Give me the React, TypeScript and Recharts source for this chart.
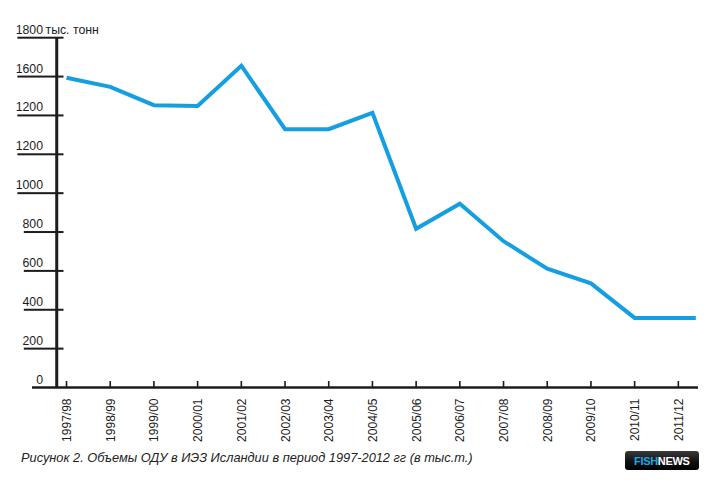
import React from 'react';
import { LineChart, Line, XAxis, YAxis, ReferenceLine } from 'recharts';

const seasons = ['1997/98', '1998/99', '1999/00', '2000/01', '2001/02', '2002/03', '2003/04', '2004/05', '2005/06', '2006/07', '2007/08', '2008/09', '2009/10', '2010/11', '2011/12'];
const tac = [1594, 1547, 1453, 1449, 1656, 1329, 1329, 1413, 817, 946, 753, 611, 536, 358, 358];
const tailIndex = 14.4;
const tailValue = 358;
const yTicks = [0, 200, 400, 600, 800, 1000, 1200, 1400, 1600, 1800];
const yTickLabels = ['0', '200', '400', '600', '800', '1000', '1200', '1200', '1600', '1800'];
const unitLabel = 'тыс. тонн';
const caption = 'Рисунок 2. Объемы ОДУ в ИЭЗ Исландии в период 1997-2012 гг (в тыс.т.)';

const data = [
  ...tac.map((v, i) => ({ x: i, v })),
  { x: tailIndex, v: tailValue },
];

const SANS = "'Liberation Sans', Arial, sans-serif";
const INK = '#1c1c1c';

const YTick = (props: any) => {
  const { y, payload } = props;
  const val = Number(payload.value);
  const idx = yTicks.indexOf(val);
  const label = idx >= 0 ? yTickLabels[idx] : String(val);
  const right = 43;
  const x1 = right - label.length * 6.4;
  return (
    <g>
      {val !== 0 && (
        <rect x={x1} y={y - 1} width={63.5 - x1} height={2} fill={INK} />
      )}
      <text x={right} y={y - 4} textAnchor="end" fontFamily={SANS} fontSize={12.3} fill={INK} stroke="none">
        {label}
      </text>
      {val === 1800 && (
        <text x={45.5} y={y - 4} textAnchor="start" fontFamily={SANS} fontSize={12.3} fill={INK} stroke="none">
          {unitLabel}
        </text>
      )}
    </g>
  );
};

const XTick = (props: any) => {
  const { x, y, payload } = props;
  const label = seasons[payload.value] ?? '';
  return (
    <g>
      <rect x={x - 0.8} y={y - 6.5} width={1.6} height={6.5} fill={INK} />
      <text
        transform={`translate(${x + 0.5},${y + 11}) rotate(-90)`}
        textAnchor="end"
        dominantBaseline="central"
        fontFamily={SANS}
        fontSize={12}
        fill={INK}
        stroke="none"
      >
        {label}
      </text>
    </g>
  );
};

export default function App() {
  return (
    <div style={{ position: 'absolute', left: 0, top: 0, width: 709, height: 480, background: '#fff' }}>
      <LineChart
        width={709}
        height={480}
        data={data}
        margin={{ top: 37.7, right: 11, bottom: 32.5, left: 0 }}
      >
        <XAxis
          dataKey="x"
          type="number"
          domain={[-0.79, 14.45]}
          ticks={seasons.map((_, i) => i)}
          interval={0}
          height={60}
          tickSize={0}
          tickMargin={0}
          axisLine={{ stroke: INK, strokeWidth: 2.6 }}
          tickLine={false}
          tick={<XTick />}
        />
        <YAxis
          type="number"
          domain={[0, 1800]}
          ticks={yTicks}
          interval={0}
          width={32}
          axisLine={false}
          tickLine={false}
          tick={<YTick />}
        />
        <ReferenceLine x={-0.224} stroke={INK} strokeWidth={3} />
        <Line
          type="linear"
          dataKey="v"
          stroke="#169fe0"
          strokeWidth={4}
          strokeLinejoin="miter"
          dot={false}
          isAnimationActive={false}
        />
      </LineChart>
      <svg style={{ position: 'absolute', left: 0, top: 0 }} width={709} height={480}>
        <text x={21} y={462} fontFamily={SANS} fontStyle="italic" fontSize={12.8} fill="#222">
          {caption}
        </text>
        <defs>
          <linearGradient id="logoGrad" x1="0" y1="0" x2="0" y2="1">
            <stop offset="0%" stopColor="#3a3a3a" />
            <stop offset="55%" stopColor="#111" />
            <stop offset="100%" stopColor="#000" />
          </linearGradient>
        </defs>
        <rect x={625} y={451} width={74} height={19} rx={3} fill="url(#logoGrad)" />
        <text x={634} y={464.5} fontFamily={SANS} fontWeight="bold" fontSize={11} letterSpacing={-0.3}>
          <tspan fill="#1aa7e8">FISH</tspan>
          <tspan fill="#fff">NEWS</tspan>
        </text>
      </svg>
    </div>
  );
}
